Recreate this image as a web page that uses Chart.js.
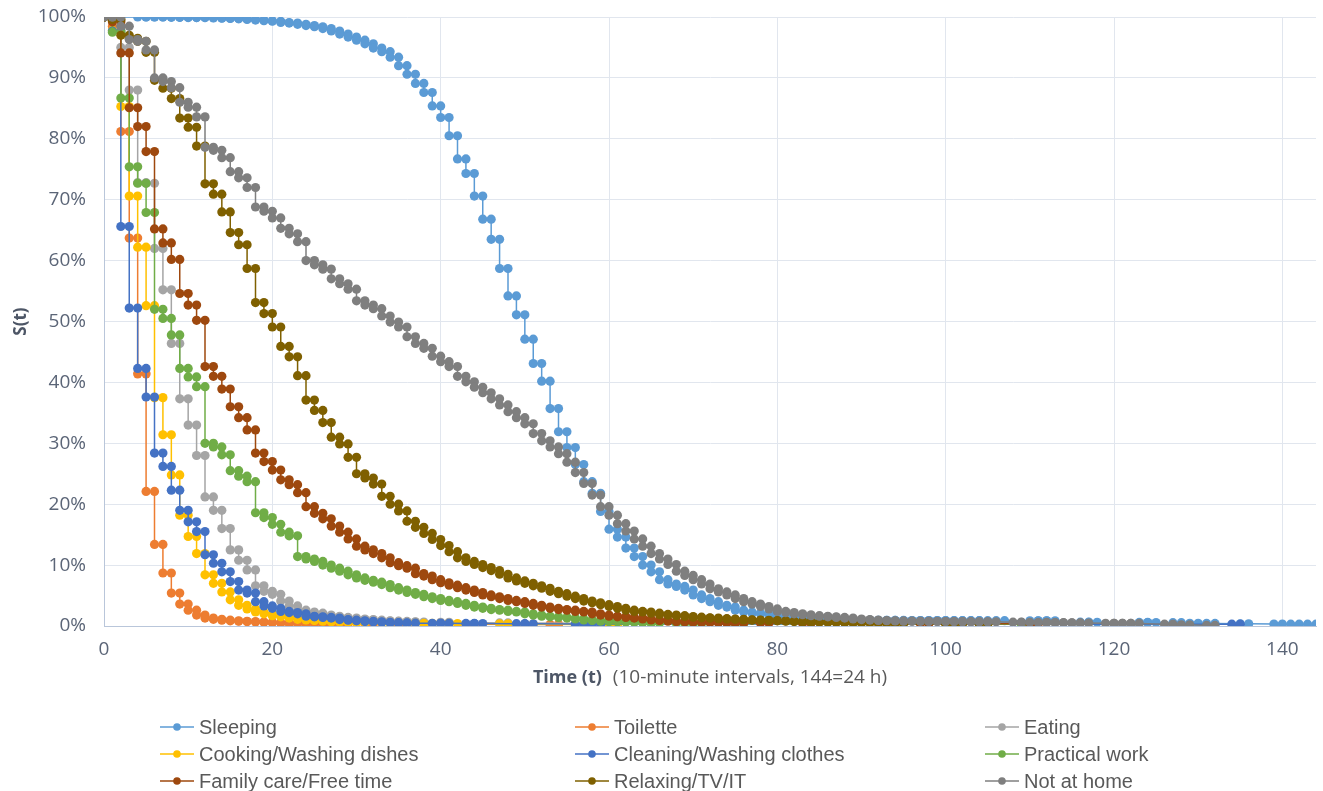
<!DOCTYPE html>
<html>
<head>
<meta charset="utf-8">
<script src="https://cdn.jsdelivr.net/npm/chart.js@4.4.1/dist/chart.umd.min.js"></script>
<style>
  html, body { margin: 0; padding: 0; background: #ffffff; }
  #wrap { width: 1323px; height: 791px; position: relative; }
</style>
</head>
<body>
<div id="wrap"><canvas id="chart" width="1323" height="791"></canvas></div>
<script>
// Survival curves S(t) per activity, in percent, one value per 10-minute interval t.
// null = no event in that interval (the curve simply carries on).
const activities = [
  'Sleeping', 'Toilette', 'Eating',
  'Cooking/Washing dishes', 'Cleaning/Washing clothes', 'Practical work',
  'Family care/Free time', 'Relaxing/TV/IT', 'Not at home'
];
const timeTicks = [0, 20, 40, 60, 80, 100, 120, 140];
const pctTicks = [0, 10, 20, 30, 40, 50, 60, 70, 80, 90, 100];

const sleeping = [100, null, null, null,
  100, 100, 100, 100, 99.95, 99.95, 99.9, 99.9,
  99.9, 99.85, 99.8, 99.75, 99.7, 99.6, 99.5, 99.4,
  99.3, 99.1, 99.0, 98.8, 98.6, 98.4, 98.1, 97.7,
  97.2, 96.7, 96.2, 95.6, 94.9, 94.3, 93.4, 92.0,
  90.6, 89.1, 87.6, 85.4, 83.5, 80.5, 76.7, 74.3,
  70.6, 66.8, 63.5, 58.7, 54.2, 51.1, 47.1, 43.1,
  40.2, 35.7, 31.9, 29.3, 26.5, 23.7, 21.8, 18.8,
  15.9, 14.6, 12.8, 11.4, 10.0, 8.9, 7.6, 6.9,
  6.5, 5.9, 5.1, 4.5, 4.0, 3.4, 3.1, 2.6,
  2.3, 2.1, 2.0, 1.8, 1.5, 1.4, 1.3, 1.2,
  1.15, 1.1, 1.05, 1.0, 0.98, 0.96, 0.95, 0.94,
  0.93, 0.92, 0.91, 0.9, 0.9, 0.9, 0.89, 0.89, 0.88, 0.88, 0.88, 0.88];
const sleepingTail = [[104, 0.87], [106, 0.87], [110, 0.86], [111, 0.85], [112, 0.85],
  [116, 0.62], [117, 0.6], [123, 0.58], [124, 0.57], [127, 0.55], [129, 0.45],
  [131, 0.42], [135, 0.35], [139, 0.32], [141, 0.3], [143, 0.3]];

const toilette = [100, 98.5, 81.2, 63.7, 41.4, 22.1, 13.4, 8.7, 5.4, 3.6, 2.6, 1.8,
  1.3, 1.1, 0.95, 0.85, 0.78, 0.72, 0.66, 0.6, 0.55, 0.5, 0.46, 0.43, 0.41, 0.39,
  0.37, 0.35, 0.33];
const toiletteTail = [[31, 0.32], [35, 0.3], [43, 0.28], [53, 0.25]];

const eating = [100, 99.5, 95.0, 88.0, 72.8, 72.7, 62.0, 55.2, 46.4, 37.3, 33.0, 28.0,
  21.2, 19.0, 16.0, 12.5, 10.8, 9.2, 6.6, 5.7, 5.2, 4.1, 3.3, 2.6, 2.3, 2.1, 1.8,
  1.6, 1.4, 1.3, 1.15, 1.05, 0.95, 0.85, 0.8, 0.75, 0.7, 0.66];
const eatingTail = [[40, 0.6], [47, 0.5], [60, 0.45]];

const cooking = [100, 97.8, 85.3, 70.6, 62.2, 52.6, 37.5, 31.4, 24.8, 18.2, 14.7, 11.9,
  8.4, 7.0, 5.6, 4.3, 3.4, 2.8, 2.3, 2.0, 1.7, 1.5, 1.3, 1.1, 1.0, 0.9, 0.8, 0.7,
  0.65, 0.6, 0.55];
const cookingTail = [[33, 0.5], [36, 0.45], [38, 0.42], [41, 0.4], [47, 0.35],
  [50, 0.3], [56, 0.25], [60, 0.2]];

const cleaning = [100, 97.7, 65.6, 52.2, 42.3, 37.6, 28.4, 26.2, 22.3, 19.0, 17.1, 15.5,
  11.7, 10.3, 8.9, 7.3, 5.9, 5.4, 4.0, 3.3, 2.9, 2.4, 2.2, 2.0, 1.6, 1.5, 1.4, 1.3,
  1.05, 0.95, 0.85, 0.75, 0.68, 0.6, 0.55, 0.5, 0.47];
const cleaningTail = [[39, 0.45], [40, 0.44], [43, 0.42], [44, 0.41], [49, 0.38],
  [50, 0.37], [56, 0.33], [58, 0.32], [134, 0.3]];

const practical = [100, 97.5, 86.7, 75.4, 72.7, 67.9, 52.0, 50.5, 47.8, 42.3, 40.9, 39.3,
  30.0, 29.4, 28.1, 25.5, 24.6, 23.7, 18.6, 17.8, 16.7, 15.4, 14.8, 11.4, 11.0, 10.6,
  10.0, 9.5, 9.0, 8.4, 7.9, 7.5, 7.2, 6.8, 6.3, 5.9, 5.5, 5.2, 4.8, 4.5, 4.2, 4.0,
  3.7, 3.4, 3.1, 2.9, 2.7, 2.6, 2.4, 2.3, 2.0, 1.8, 1.6, 1.5, 1.4, 1.3, 1.15, 1.0,
  0.9, 0.8, 0.75, 0.7, 0.65, 0.6, 0.55, 0.5];
const practicalTail = [[68, 0.45], [70, 0.42], [75, 0.4], [109, 0.3]];

const familyCare = [100, 99.2, 94.1, 85.1, 82.0, 77.9, 65.2, 62.9, 60.2, 54.6, 52.7, 50.2,
  42.6, 41.0, 38.9, 36.0, 34.2, 32.2, 28.4, 27.0, 25.6, 24.0, 23.2, 21.9, 19.6, 18.5,
  17.6, 16.4, 15.4, 14.3, 13.1, 12.5, 11.9, 11.2, 10.4, 9.9, 9.5, 8.6, 8.2, 7.6, 7.1,
  6.7, 6.3, 5.9, 5.5, 5.1, 4.8, 4.5, 4.2, 4.0, 3.7, 3.4, 3.1, 2.9, 2.7, 2.6, 2.4,
  2.3, 2.0, 1.8, 1.6, 1.5, 1.4, 1.3, 1.15, 1.0, 0.9, 0.8, 0.75, 0.7, 0.65, 0.6,
  0.58, 0.55, 0.52, 0.5];
const familyCareTail = [[78, 0.48], [83, 0.45], [97, 0.4], [110, 0.35]];

const relaxing = [100, 99.6, 97.0, 96.5, 96.0, 94.2, 89.6, 88.3, 86.6, 83.4, 81.9, 78.8,
  72.6, 70.9, 68.0, 64.6, 62.6, 58.7, 53.1, 51.3, 49.1, 45.9, 44.2, 41.1, 37.1, 35.4,
  33.4, 31.0, 29.9, 27.7, 25.0, 24.3, 23.3, 21.3, 20.0, 18.9, 17.2, 16.2, 15.2, 14.2,
  13.2, 12.2, 11.2, 10.6, 10.1, 9.6, 9.1, 8.5, 7.9, 7.4, 7.0, 6.6, 6.2, 5.7, 5.3,
  4.9, 4.5, 4.1, 3.8, 3.5, 3.2, 2.9, 2.6, 2.4, 2.3, 2.1, 1.9, 1.8, 1.7, 1.55, 1.45,
  1.35, 1.3, 1.2, 1.15, 1.1, 1.0, 0.97, 0.93, 0.9, 0.85, 0.8, 0.75, 0.7, 0.67, 0.63,
  0.6, 0.57, 0.55, 0.52, 0.5];
const relaxingTail = [[92, 0.4], [94, 0.38], [100, 0.33], [101, 0.32], [104, 0.3]];

const notAtHome = [100, 100, 98.5, 96.3, 96.0, 94.6, 90.0, 89.4, 88.4, 86.0, 85.2, 83.6,
  78.6, 78.1, 76.9, 74.6, 73.6, 72.0, 68.8, 68.1, 67.0, 65.3, 64.4, 63.1, 60.0, 59.3,
  58.6, 57.0, 56.2, 55.3, 53.4, 52.7, 52.1, 50.9, 49.9, 49.1, 47.5, 46.4, 45.6, 44.3,
  43.4, 42.6, 41.0, 40.1, 39.2, 38.3, 37.3, 36.3, 35.2, 34.2, 33.2, 31.6, 30.4, 29.4,
  28.3, 26.9, 25.2, 23.4, 21.5, 19.6, 18.2, 16.8, 15.6, 14.3, 13.1, 11.9, 11.0, 10.1,
  9.0, 8.3, 7.6, 6.9, 6.1, 5.6, 5.1, 4.5, 4.0, 3.6, 3.2, 2.8, 2.4, 2.2, 2.0, 1.85,
  1.7, 1.6, 1.5, 1.4, 1.3, 1.15, 1.05, 0.97, 0.9, 0.86, 0.82, 0.8, 0.78, 0.76, 0.75,
  0.74, 0.73, 0.72, 0.71, 0.7, 0.69, 0.68];
const notAtHomeTail = [[108, 0.62], [109, 0.6], [111, 0.58], [112, 0.56], [113, 0.55],
  [114, 0.53], [115, 0.5], [116, 0.48], [119, 0.45], [120, 0.44], [121, 0.43],
  [122, 0.42], [126, 0.3], [128, 0.2], [131, 0.1]];

const seriesColors = ['#5B9BD5', '#ED7D31', '#A5A5A5', '#FFC000', '#4472C4', '#70AD47',
  '#9E480E', '#7F6000', '#7F7F7F'];
const seriesValues = [sleeping, toilette, eating, cooking, cleaning, practical,
  familyCare, relaxing, notAtHome];
const seriesTails = [sleepingTail, toiletteTail, eatingTail, cookingTail, cleaningTail,
  practicalTail, familyCareTail, relaxingTail, notAtHomeTail];

const xTitleMain = 'Time (t)';
const xTitleNote = '(10-minute intervals, 144=24 h)';
const yTitle = 'S(t)';

// Each interval t holds S(t) from t to t+1: a marker at both ends, joined into steps.
function stepPoints(values, tail) {
  const pts = [];
  const add = (t, s) => { pts.push({ x: t, y: s }, { x: t + 1, y: s }); };
  values.forEach((s, t) => { if (s !== null) add(t, s); });
  tail.forEach(([t, s]) => add(t, s));
  return pts;
}

const datasets = activities.map((name, i) => ({
  label: name,
  data: stepPoints(seriesValues[i], seriesTails[i]),
  borderColor: seriesColors[i],
  backgroundColor: seriesColors[i],
  pointBackgroundColor: seriesColors[i],
  pointBorderColor: seriesColors[i],
  pointBorderWidth: 0,
  pointRadius: 4.6,
  pointHoverRadius: 4.6,
  borderWidth: 1.5,
  tension: 0,
  fill: false,
  order: activities.length - i   // later series painted on top
}));

const TICK_FONT = { family: '"Open Sans", "Liberation Sans", sans-serif', size: 19 };
const TEXT_GREY = '#595959';

// Legend laid out in three fixed columns below the plot.
const gridLegend = {
  id: 'gridLegend',
  afterDraw(chart) {
    const ctx = chart.ctx;
    const colX = [160, 575, 985];
    const rowY = [727, 754, 781];
    ctx.save();
    ctx.font = '20px "Liberation Sans", Arial, sans-serif';
    ctx.textBaseline = 'middle';
    ctx.textAlign = 'left';
    activities.forEach((name, i) => {
      const x = colX[i % 3];
      const y = rowY[Math.floor(i / 3)];
      ctx.strokeStyle = seriesColors[i];
      ctx.lineWidth = 1.5;
      ctx.beginPath();
      ctx.moveTo(x, y);
      ctx.lineTo(x + 34, y);
      ctx.stroke();
      ctx.fillStyle = seriesColors[i];
      ctx.beginPath();
      ctx.arc(x + 17, y, 3.8, 0, Math.PI * 2);
      ctx.fill();
      ctx.fillStyle = TEXT_GREY;
      ctx.fillText(name, x + 39, y + 1);
    });
    ctx.restore();
  }
};

// X axis title: bold label followed by a regular note.
const timeTitle = {
  id: 'timeTitle',
  afterDraw(chart) {
    const ctx = chart.ctx;
    const a = chart.chartArea;
    const cx = (a.left + a.right) / 2;
    const y = 678;
    ctx.save();
    ctx.textBaseline = 'middle';
    ctx.textAlign = 'left';
    const boldFont = 'bold 18px "Open Sans", "Liberation Sans", sans-serif';
    const normFont = '19px "Open Sans", "Liberation Sans", sans-serif';
    ctx.font = boldFont;
    const w1 = ctx.measureText(xTitleMain).width;
    ctx.font = normFont;
    const w2 = ctx.measureText(xTitleNote).width;
    const gap = 11;
    let x = cx - (w1 + gap + w2) / 2;
    ctx.font = boldFont;
    ctx.fillStyle = '#4d5666';
    ctx.fillText(xTitleMain, x, y);
    ctx.font = normFont;
    ctx.fillStyle = TEXT_GREY;
    ctx.fillText(xTitleNote, x + w1 + gap, y);
    ctx.restore();
  }
};

new Chart(document.getElementById('chart'), {
  type: 'line',
  data: { datasets },
  options: {
    responsive: false,
    animation: false,
    devicePixelRatio: 1,
    parsing: false,
    layout: { padding: { left: 0, right: 7, top: 17, bottom: 0 } },
    plugins: {
      legend: { display: false },
      tooltip: { enabled: false }
    },
    scales: {
      x: {
        type: 'linear',
        min: 0,
        max: 144,
        afterFit(scale) { scale.height = 165; },
        afterBuildTicks(scale) { scale.ticks = timeTicks.map(v => ({ value: v })); },
        ticks: {
          stepSize: 20,
          includeBounds: false,
          padding: 12,
          color: '#5b6577',
          font: TICK_FONT,
          maxRotation: 0
        },
        grid: { color: '#e1e6ee', lineWidth: 1, drawTicks: false },
        border: { color: '#b9c6da', width: 1 }
      },
      y: {
        type: 'linear',
        min: 0,
        max: 100,
        afterFit(scale) {
          scale.width = 104;
          scale.paddingTop = 0;
          scale.paddingBottom = 0;
        },
        afterBuildTicks(scale) { scale.ticks = pctTicks.map(v => ({ value: v })); },
        ticks: {
          stepSize: 10,
          padding: 18,
          color: '#5b6577',
          font: TICK_FONT,
          callback: v => v + '%'
        },
        grid: { color: '#e1e6ee', lineWidth: 1, drawTicks: false },
        border: { color: '#b9c6da', width: 1 },
        title: {
          display: true,
          text: yTitle,
          color: '#4d5666',
          font: { family: '"Open Sans", "Liberation Sans", sans-serif', size: 17, weight: 'bold' },
          padding: { top: 11, bottom: 0 }
        }
      }
    }
  },
  plugins: [gridLegend, timeTitle]
});
</script>
</body>
</html>
